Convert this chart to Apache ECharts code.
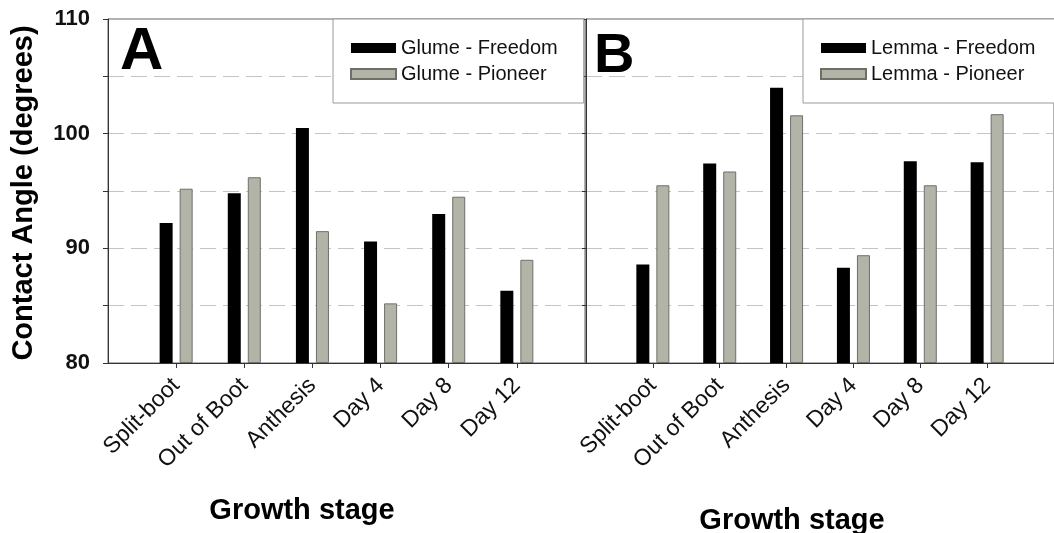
<!DOCTYPE html>
<html>
<head>
<meta charset="utf-8">
<script src="https://cdn.jsdelivr.net/npm/echarts@6/dist/echarts.min.js"></script>
<style>
html,body{margin:0;padding:0;background:#fff;}
#chart{width:1054px;height:533px;}
</style>
</head>
<body>
<div id="chart"></div>
<script>
const categories = ['Split-boot', 'Out of Boot', 'Anthesis', 'Day 4', 'Day 8', 'Day 12'];
const glumeFreedom = [92.2, 94.8, 100.5, 90.6, 93.0, 86.3];
const glumePioneer = [95.2, 96.2, 91.5, 85.2, 94.5, 89.0];
const lemmaFreedom = [88.6, 97.4, 104.0, 88.3, 97.6, 97.5];
const lemmaPioneer = [95.5, 96.7, 101.6, 89.4, 95.5, 101.7];
const yMin = 80, yMax = 110, yStep = 5, yLabelStep = 10;
const yTitle = 'Contact Angle (degrees)';
const xTitle = 'Growth stage';

const FONT = '"Liberation Sans", Arial, Helvetica, sans-serif';
const BLACK = '#000000';
const GREY = '#b3b4a8';

// pad categories with empty slots at both ends (axis spans 0..7)
const cats = [''].concat(categories, ['']);
const pad = arr => [null].concat(arr, [null]);

const chart = echarts.init(document.getElementById('chart'), null, {renderer: 'canvas'});

function xAxisCfg(gridIndex) {
  return {
    type: 'category', gridIndex: gridIndex, data: cats, boundaryGap: false,
    axisLine: {show: true, lineStyle: {color: '#333', width: 1}},
    axisTick: {show: true, length: 5, inside: false, lineStyle: {color: '#333'},
      interval: (i) => i >= 1 && i <= categories.length},
    axisLabel: {show: true, rotate: 45, margin: 19, fontSize: 23, color: '#111', fontFamily: FONT,
      interval: (i) => i >= 1 && i <= categories.length},
    splitLine: {show: false}
  };
}
function yAxisCfg(gridIndex, showLabels) {
  return {
    type: 'value', gridIndex: gridIndex, min: yMin, max: yMax, interval: yStep, startValue: yMin,
    axisLine: {show: true, lineStyle: {color: '#333', width: 1}},
    axisTick: {show: true, length: showLabels ? 5 : 4, lineStyle: {color: '#333'}},
    axisLabel: {show: showLabels, margin: 18, fontSize: 22, fontWeight: 'bold', color: '#111', fontFamily: FONT,
      formatter: v => (v % yLabelStep === 0 ? String(v) : '')},
    splitLine: {show: true, showMinLine: false, showMaxLine: false,
      lineStyle: {color: '#c4c4c4', width: 1, type: [16, 7]}}
  };
}
function barSeries(name, data, idx, color, border) {
  return {
    name: name, type: 'bar', xAxisIndex: idx, yAxisIndex: idx, data: pad(data),
    barWidth: 13, barGap: '54%',
    itemStyle: {color: color, borderColor: border, borderWidth: border === BLACK ? 0 : 1},
    emphasis: {disabled: true}, animation: false
  };
}
function legendCfg(names, left) {
  return {
    data: names, orient: 'vertical', left: left, top: 19,
    itemWidth: 45, itemHeight: 10, itemGap: 6, itemTextGap: 12, icon: 'rect',
    padding: [19, 26, 19, 17],
    borderColor: '#9a9a9a', borderWidth: 1, backgroundColor: '#ffffff',
    textStyle: {fontSize: 20, color: '#111', fontFamily: FONT},
    selectedMode: false
  };
}

const option = {
  backgroundColor: '#ffffff',
  animation: false,
  textStyle: {fontFamily: FONT},
  grid: [
    {left: 108, top: 19, width: 477, height: 344, show: true, borderColor: '#666', borderWidth: 1, backgroundColor: 'transparent'},
    {left: 586, top: 19, width: 479, height: 344, show: true, borderColor: '#666', borderWidth: 1, backgroundColor: 'transparent'}
  ],
  xAxis: [xAxisCfg(0), xAxisCfg(1)],
  yAxis: [yAxisCfg(0, true), yAxisCfg(1, false)],
  legend: [
    legendCfg(['Glume - Freedom', 'Glume - Pioneer'], 333),
    legendCfg(['Lemma - Freedom', 'Lemma - Pioneer'], 803)
  ],
  series: [
    barSeries('Glume - Freedom', glumeFreedom, 0, BLACK, BLACK),
    barSeries('Glume - Pioneer', glumePioneer, 0, GREY, '#6f6f6a'),
    barSeries('Lemma - Freedom', lemmaFreedom, 1, BLACK, BLACK),
    barSeries('Lemma - Pioneer', lemmaPioneer, 1, GREY, '#6f6f6a')
  ],
  graphic: [
    {type: 'text', left: 120, top: 22, silent: true,
      style: {text: 'A', fontSize: 60, fontWeight: 'bold', fill: '#000', fontFamily: FONT}},
    {type: 'text', left: 594, top: 29, silent: true,
      style: {text: 'B', fontSize: 56, fontWeight: 'bold', fill: '#000', fontFamily: FONT}},
    {type: 'text', x: 24, y: 193, rotation: Math.PI / 2, silent: true,
      style: {text: yTitle, fontSize: 29, fontWeight: 'bold', fill: '#000', fontFamily: FONT,
        align: 'center', verticalAlign: 'middle'}},
    {type: 'text', x: 302, y: 511, silent: true,
      style: {text: xTitle, fontSize: 29, fontWeight: 'bold', fill: '#000', fontFamily: FONT,
        align: 'center', verticalAlign: 'middle'}},
    {type: 'text', x: 792, y: 521, silent: true,
      style: {text: xTitle, fontSize: 29, fontWeight: 'bold', fill: '#000', fontFamily: FONT,
        align: 'center', verticalAlign: 'middle'}}
  ]
};
chart.setOption(option);
</script>
</body>
</html>
